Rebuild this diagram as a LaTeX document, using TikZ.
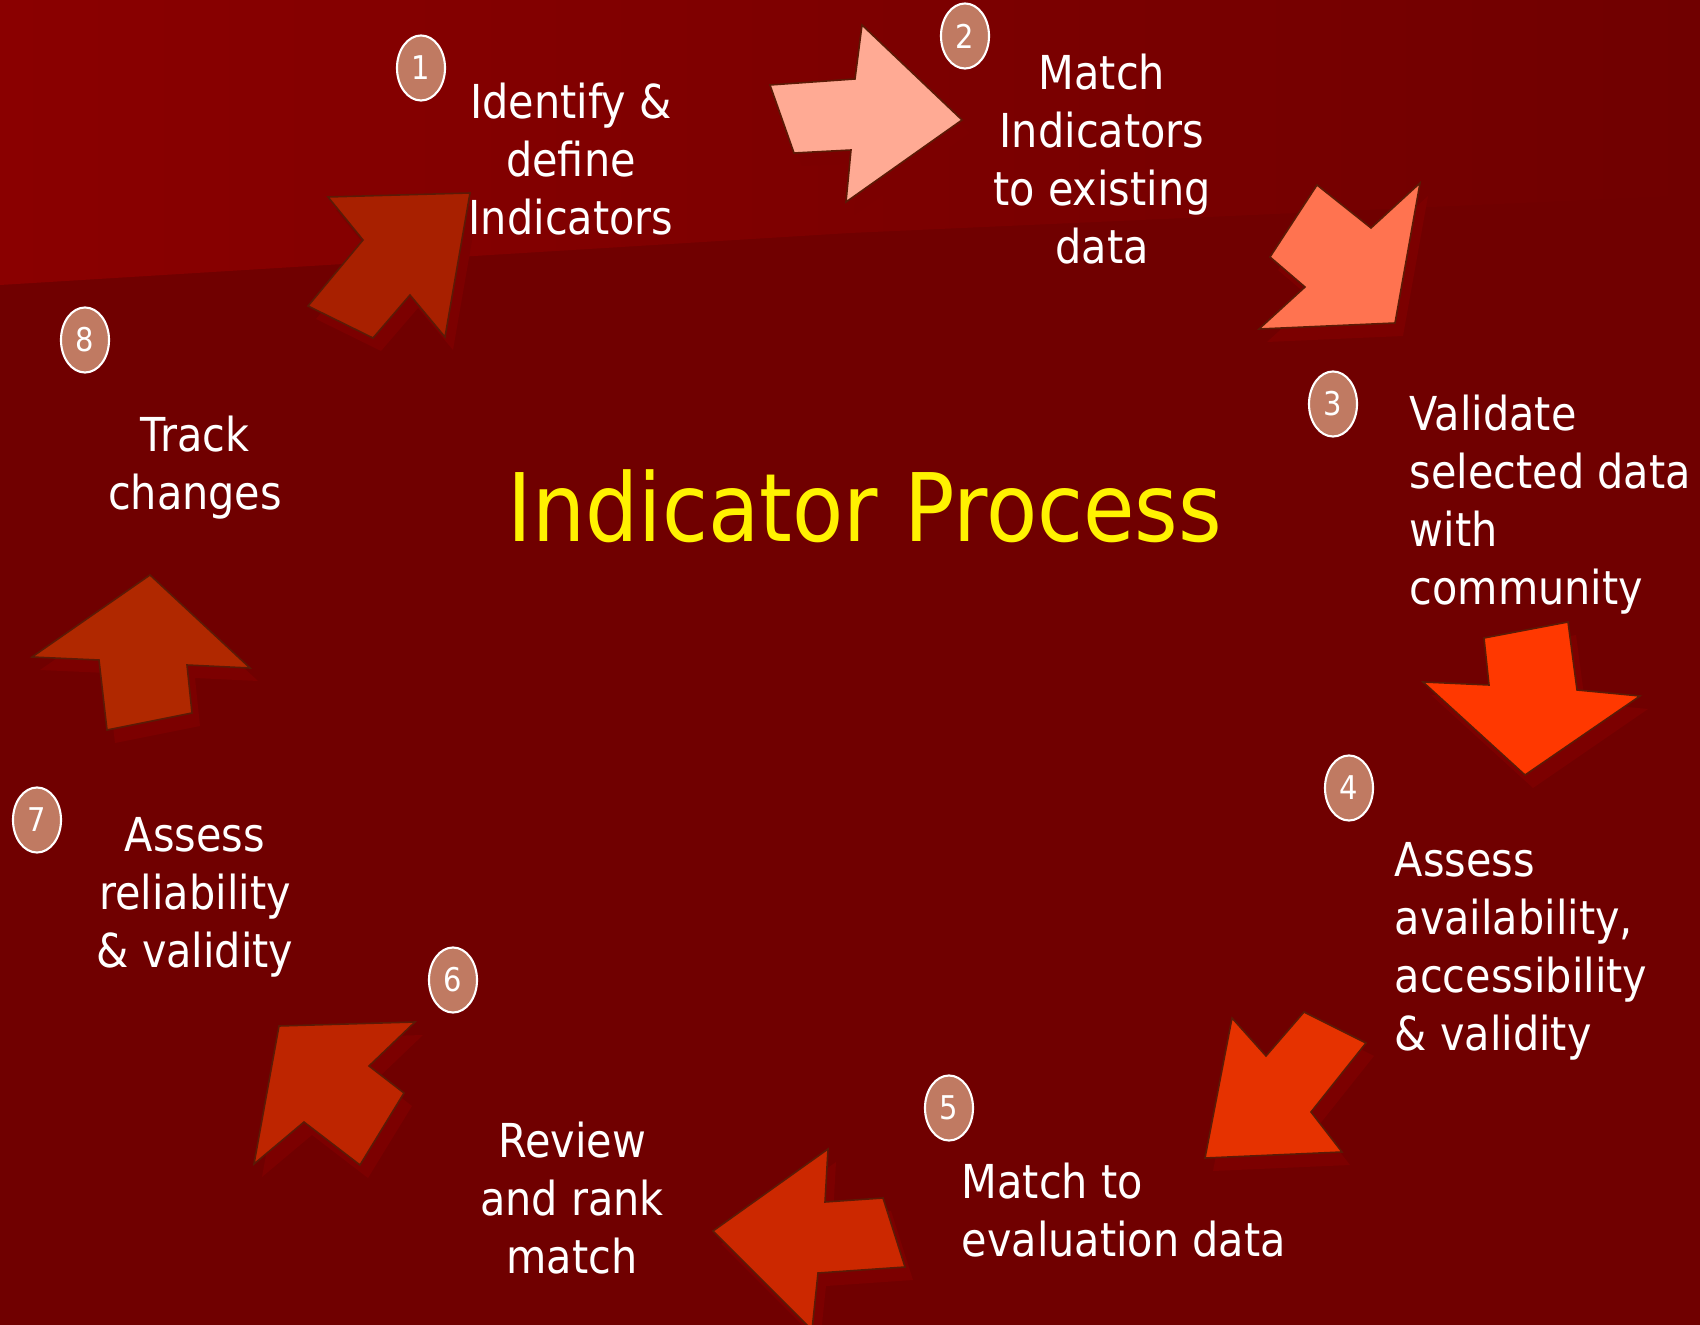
\documentclass[tikz,border=0pt]{standalone}
\usepackage{fontspec}
\setmainfont{DejaVu Sans}[FakeStretch=0.885]
\usetikzlibrary{shapes.geometric}

\definecolor{bgdark}{RGB}{112,0,0}
\definecolor{bglight}{RGB}{138,0,0}
\definecolor{rimbrown}{RGB}{92,26,6}
\definecolor{shadowred}{RGB}{124,0,0}
\definecolor{dotfill}{RGB}{192,122,98}
\definecolor{arrowA}{RGB}{168,32,0}
\definecolor{arrowB}{RGB}{255,170,148}
\definecolor{arrowC}{RGB}{255,115,80}
\definecolor{arrowD}{RGB}{255,56,0}
\definecolor{arrowE}{RGB}{230,50,0}
\definecolor{arrowF}{RGB}{204,40,0}
\definecolor{arrowG}{RGB}{190,37,0}
\definecolor{arrowH}{RGB}{176,40,0}

\tikzset{
  arrowbody/.style={draw=rimbrown, line width=0.45pt, line join=miter},
  arrowshadow/.style={fill=shadowred, shift={(8,13)}},
  numdot/.style={ellipse, draw=white, fill=dotfill, line width=0.6pt,
    minimum width=0.48cm, minimum height=0.65cm, inner sep=0pt,
    text=white, font=\fontsize{9.3}{11}\selectfont},
  steptext/.style={text=white, inner sep=0pt, font=\fontsize{13.3}{16.5}\selectfont},
}

% block arrow: shadow first, then the body
\newcommand{\bigarrow}[2]{%
  \fill[arrowshadow] #2 -- cycle;
  \filldraw[arrowbody, fill=#1] #2 -- cycle;
}

\begin{document}
\begin{tikzpicture}[x=0.01cm, y=-0.01cm]
  \useasboundingbox (0,0) rectangle (1700,1325);

  % background
  \fill[bgdark] (0,0) rectangle (1700,1325);
  \shade[left color=bglight, right color=bgdark] (0,0) -- (1700,0) -- (1700,195) -- (850,233) -- (0,285) -- cycle;

  % arrows round the cycle
  \bigarrow{arrowA}{(470,193) -- (445,337) -- (410,295) -- (373,338) -- (308,306) -- (363,240) -- (328,197)}
  \bigarrow{arrowB}{(962,120) -- (846,202) -- (851,150) -- (794,153) -- (770,85) -- (855,79) -- (862,25)}
  \bigarrow{arrowC}{(1395,323) -- (1259,329) -- (1305,287) -- (1270,257) -- (1317,185) -- (1371,228) -- (1420,183)}
  \bigarrow{arrowD}{(1525,775) -- (1423,682) -- (1489,685) -- (1484,638) -- (1568,622) -- (1577,690) -- (1640,696)}
  \bigarrow{arrowE}{(1205,1158) -- (1232,1018) -- (1266,1056) -- (1304,1012) -- (1366,1043) -- (1311,1112) -- (1342,1152)}
  \bigarrow{arrowF}{(713,1231) -- (828,1149) -- (825,1202) -- (883,1198) -- (905,1267) -- (818,1273) -- (812,1330)}
  \bigarrow{arrowG}{(279,1026) -- (415,1022) -- (369,1066) -- (404,1093) -- (360,1165) -- (304,1122) -- (254,1164)}
  \bigarrow{arrowH}{(150,575) -- (250,668) -- (187,665) -- (192,713) -- (107,730) -- (99,660) -- (32,657)}

  % numbered dots
  \foreach \i/\p in {1/{(421,68)}, 2/{(965,36)}, 3/{(1333,404)}, 4/{(1349,788)},
                     5/{(949,1108)}, 6/{(453,980)}, 7/{(37,820)}, 8/{(85,340)}} {
    \node[numdot] (dot\i) at \p {\i};
  }

  % step texts
  \node[steptext, anchor=north, align=center] (identify) at (571,82) {Identify \&\\define\\Indicators};
  \node[steptext, anchor=north, align=center] (matchind) at (1102,53) {Match\\Indicators\\to existing\\data};
  \node[steptext, anchor=north west, align=left] (validate) at (1409,394) {Validate\\selected data\\with\\community};
  \node[steptext, anchor=north west, align=left] (assessavail) at (1394,842) {Assess\\availability,\\accessibility\\\& validity};
  \node[steptext, anchor=north west, align=left] (matcheval) at (961,1162) {Match to\\evaluation data};
  \node[steptext, anchor=north, align=center] (review) at (572,1121) {Review\\and rank\\match};
  \node[steptext, anchor=north, align=center] (assessrel) at (195,817) {Assess\\reliability\\\& validity};
  \node[steptext, anchor=north, align=center] (track) at (195,415) {Track\\changes};

  % title
  \node[text=yellow, inner sep=0pt, anchor=base, font=\fontsize{26.9}{32}\selectfont] (title) at (865,542) {Indicator Process};
\end{tikzpicture}
\end{document}
